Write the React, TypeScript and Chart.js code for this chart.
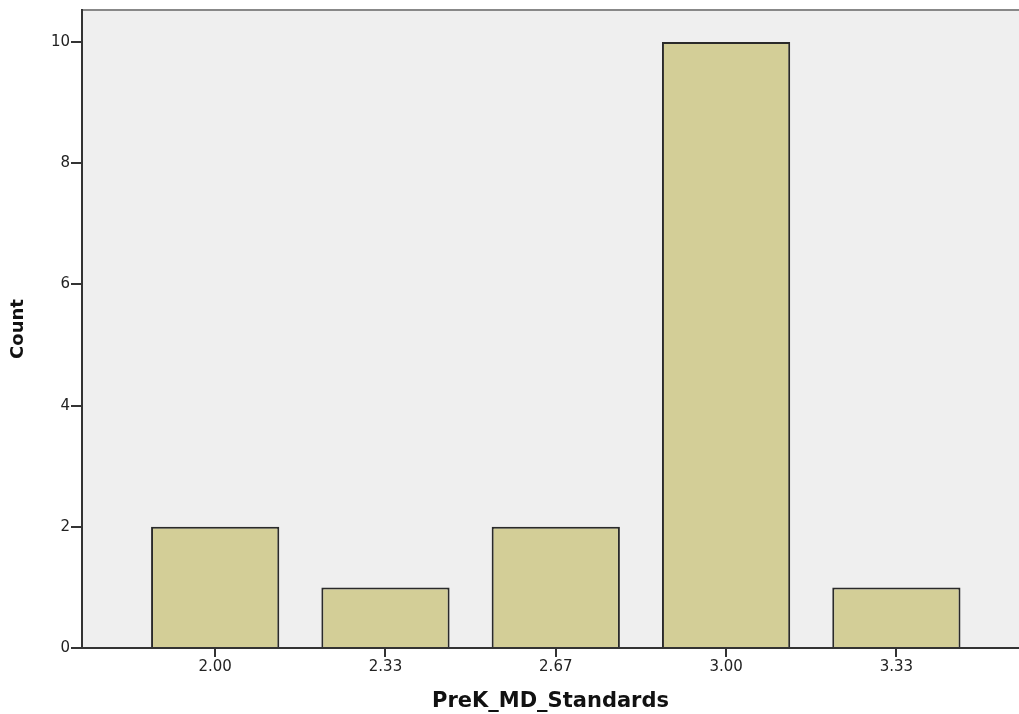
import React, { useEffect, useRef } from "react";
import { Chart, registerables } from "chart.js";

Chart.register(...registerables);

const categories = ["2.00", "2.33", "2.67", "3.00", "3.33"];
const counts = [2, 1, 2, 10, 1];
const yTicks = [0, 2, 4, 6, 8, 10];
const xTitle = "PreK_MD_Standards";
const yTitle = "Count";

const FONT = "'DejaVu Sans', Verdana, sans-serif";

const bgPlugin = {
  id: "bgPlugin",
  beforeDraw(chart: any) {
    const { ctx, chartArea } = chart;
    ctx.save();
    ctx.fillStyle = "#efefef";
    ctx.fillRect(chartArea.left, chartArea.top, chartArea.right - chartArea.left, chartArea.bottom - chartArea.top);
    ctx.strokeStyle = "#888888";
    ctx.lineWidth = 2;
    ctx.beginPath();
    ctx.moveTo(chartArea.left, chartArea.top);
    ctx.lineTo(chartArea.right, chartArea.top);
    ctx.stroke();
    ctx.restore();
  },
};

export default function App() {
  const ref = useRef<HTMLCanvasElement | null>(null);
  useEffect(() => {
    if (!ref.current) return;
    const chart = new Chart(ref.current, {
      type: "bar",
      data: {
        datasets: [
          {
            data: counts.map((c, i) => ({ x: i, y: c })),
            backgroundColor: "#d3ce97",
            borderColor: "#2a2a2a",
            borderWidth: 2,
            categoryPercentage: 1,
            barPercentage: 0.753,
          },
        ],
      },
      options: {
        animation: false,
        responsive: false,
        layout: { padding: { top: 9, right: 0, left: 0, bottom: 0 } },
        plugins: { legend: { display: false }, tooltip: { enabled: false } },
        scales: {
          x: {
            type: "linear",
            offset: false,
            min: -0.782,
            max: 4.72,
            afterBuildTicks: (scale: any) => {
              scale.ticks = categories.map((_, i) => ({ value: i }));
            },
            afterFit: (scale: any) => {
              scale.height = 66;
            },
            ticks: {
              callback: (v: any) => categories[Math.round(Number(v))] ?? "",
              font: { family: FONT, size: 15 },
              color: "#222",
              padding: 1,
              maxRotation: 0,
            },
            grid: { offset: false, drawOnChartArea: false, tickLength: 9, color: "#333", lineWidth: 2 },
            border: { display: true, color: "#333", width: 2 },
            title: {
              display: true,
              text: xTitle,
              font: { family: FONT, size: 21, weight: "bold" },
              color: "#111",
              padding: { top: 13, bottom: 0 },
            },
          },
          y: {
            min: 0,
            max: 10.53,
            afterBuildTicks: (scale: any) => {
              scale.ticks = yTicks.map((v) => ({ value: v }));
            },
            afterFit: (scale: any) => {
              scale.width = 82;
            },
            ticks: {
              font: { family: FONT, size: 15 },
              color: "#222",
              padding: 1,
            },
            grid: { drawOnChartArea: false, tickLength: 11, color: "#333", lineWidth: 2 },
            border: { display: true, color: "#333", width: 2 },
            title: {
              display: true,
              text: yTitle,
              font: { family: FONT, size: 18, weight: "bold" },
              color: "#111",
              padding: { top: 8, bottom: 20 },
            },
          },
        },
      },
      plugins: [bgPlugin],
    });
    return () => chart.destroy();
  }, []);
  return (
    <div style={{ position: "fixed", left: 0, top: 0, width: 1019, height: 714, background: "#fff" }}>
      <canvas ref={ref} width={1019} height={714} style={{ display: "block" }} />
    </div>
  );
}
